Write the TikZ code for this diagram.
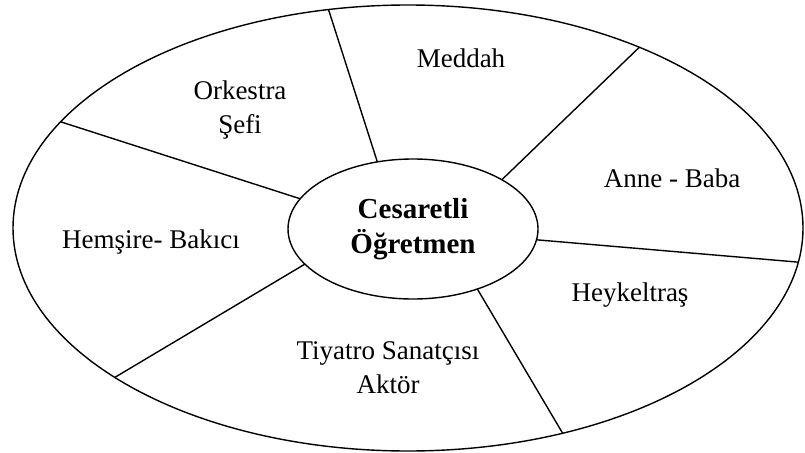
\documentclass[tikz,border=0pt]{standalone}
\usepackage{fontspec}
\setmainfont{Liberation Serif}
\usetikzlibrary{shapes.geometric}
\begin{document}
\begin{tikzpicture}[x=1pt,y=-1pt,
  ring/.style={draw, ellipse, line width=1.4pt, inner sep=0pt, outer sep=0pt},
  divider/.style={line width=1.4pt},
  lbl/.style={font=\fontsize{27}{34}\selectfont, align=center, inner sep=0pt}]
\useasboundingbox[fill=white] (0,0) rectangle (805,452);
\node[ring, minimum width=790pt, minimum height=446pt] (outer) at (408,228) {};
\node[ring, minimum width=250pt, minimum height=140pt, align=center,
      font=\bfseries\fontsize{29}{36}\selectfont] (inner) at (413,229) {Cesaretli\\[-1pt]Öğretmen};
\draw[divider] (outer.110) -- (inner.118.6);
\draw[divider] (outer.163.3) -- (inner.165.6);
\draw[divider] (outer.207) -- (inner.198.4);
\draw[divider] (outer.307.5) -- (inner.317.6);
\draw[divider] (outer.355.6) -- (inner.355.9);
\draw[divider] (outer.38.9) -- (inner.29.5);
\node[lbl] (orkestra) at (240,110) {Orkestra\\Şefi};
\node[lbl] (meddah) at (461,58) {Meddah};
\node[lbl] (anne) at (672,178) {Anne - Baba};
\node[lbl] (hemsire) at (151,242) {Hemşire- Bakıcı};
\node[lbl] (heykel) at (630,295) {Heykeltraş};
\node[lbl] (tiyatro) at (388,368) {Tiyatro Sanatçısı\\Aktör};
\end{tikzpicture}
\end{document}
